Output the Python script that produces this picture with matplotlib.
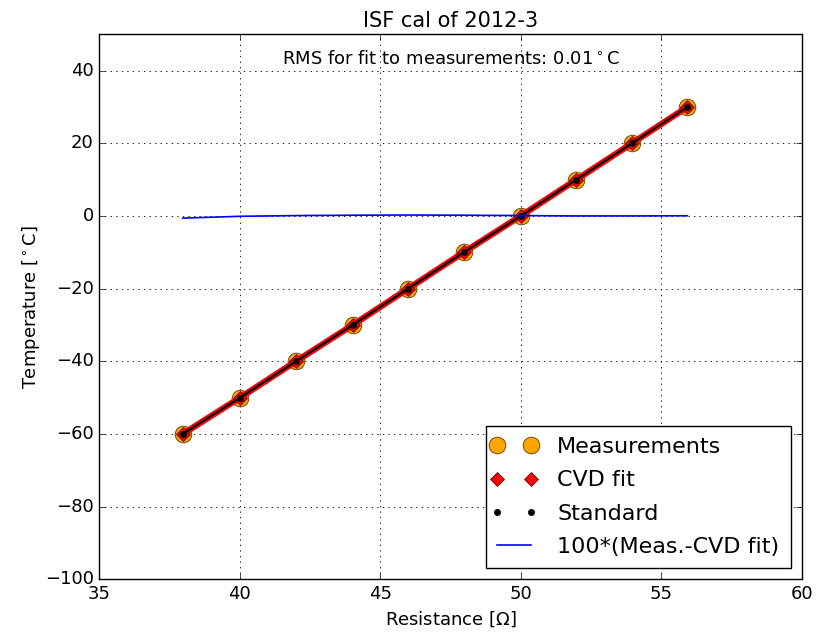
import matplotlib
matplotlib.use("Agg")
import matplotlib.pyplot as plt
from matplotlib.legend_handler import HandlerLine2D

plt.style.use("classic")
plt.rcParams["font.family"] = ["DejaVu Sans"]
plt.rcParams["mathtext.fontset"] = "dejavusans"
plt.rcParams["figure.facecolor"] = "white"
plt.rcParams["savefig.facecolor"] = "white"

# Data
resistance = [37.97, 40.01, 42.00, 44.02, 45.99, 47.97, 50.00, 51.98, 53.96, 55.93]
temperature = [-60, -50, -40, -30, -20, -10, 0, 10, 20, 30]
cvd_fit = [-60.006, -49.999, -40.001, -30.002, -20.002, -10.002, -0.001, 10.0, 20.0, 29.999]
standard = [-60.0, -50.0, -40.0, -30.0, -20.0, -10.0, 0.0, 10.0, 20.0, 30.0]
residual_x100 = [-0.6, -0.1, 0.1, 0.2, 0.25, 0.2, 0.1, 0.0, 0.0, 0.05]

fig = plt.figure(figsize=(8.16, 6.37), dpi=100)
ax = fig.add_axes([0.1217, 0.0906, 0.9825 - 0.1217, 0.9462 - 0.0906])

ax.plot(resistance, temperature, "o", color="orange", markersize=12,
        markeredgecolor="#5a3a00", markeredgewidth=0.6, label="Measurements", zorder=3)
ax.plot(resistance, cvd_fit, "-", color="red", linewidth=4.5, zorder=4)
ax.plot(resistance, cvd_fit, "D", color="red", markersize=7.5,
        markeredgecolor="#400000", markeredgewidth=0.5, label="CVD fit", zorder=4)
ax.plot(resistance, standard, "-", color="black", linewidth=1.6, zorder=5)
ax.plot(resistance, standard, ".", color="black", markersize=9, label="Standard", zorder=5)
ax.plot(resistance, residual_x100, "-", color="blue", linewidth=1.2,
        label="100*(Meas.-CVD fit)", zorder=6)

ax.set_xlim(35, 60)
ax.set_ylim(-100, 50)
ax.set_xticks([35, 40, 45, 50, 55, 60])
ax.set_yticks([-100, -80, -60, -40, -20, 0, 20, 40])
ax.grid(True, linestyle=":", color="black", linewidth=0.6)
ax.tick_params(labelsize=13, direction="in", top=True, right=True)

ax.set_xlabel("Resistance [$\\Omega$]", fontsize=13)
ax.set_ylabel("Temperature [$^\\circ$C]", fontsize=13, labelpad=2)
ax.set_title("ISF cal of 2012-3", fontsize=15)
ax.text(0.5, 0.955, "RMS for fit to measurements: 0.01$^\\circ$C", transform=ax.transAxes,
        ha="center", va="center", fontsize=13)

leg = ax.legend(loc="lower right", numpoints=2, fontsize=16, borderaxespad=0.5,
                handlelength=1.5, handletextpad=1.2, borderpad=0.5, labelspacing=0.6,
                fancybox=False, frameon=True,
                handler_map={matplotlib.lines.Line2D: HandlerLine2D(marker_pad=0.0)})
leg.get_frame().set_edgecolor("black")

fig.savefig("out.png", dpi=100)
